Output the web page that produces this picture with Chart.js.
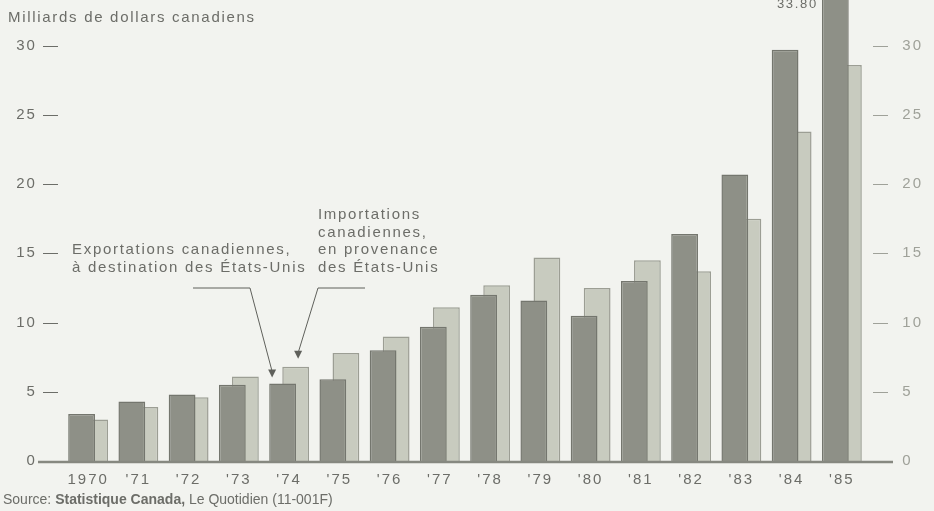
<!DOCTYPE html>
<html>
<head>
<meta charset="utf-8">
<script src="https://cdn.jsdelivr.net/npm/chart.js@4.4.1/dist/chart.umd.min.js"></script>
<style>
  html, body { margin: 0; padding: 0; background: #f2f3ef; }
  #wrap { width: 934px; height: 511px; position: relative; }
</style>
</head>
<body>
<div id="wrap"><canvas id="chart"></canvas></div>
<script>
// values (billions of Canadian dollars)
const years = ['1970', "'71", "'72", "'73", "'74", "'75", "'76", "'77", "'78", "'79", "'80", "'81", "'82", "'83", "'84", "'85"];
const exportsToUS = [3.4, 4.3, 4.8, 5.5, 5.6, 5.9, 8.0, 9.7, 12.0, 11.6, 10.5, 13.0, 16.4, 20.7, 29.7, 33.8];
const importsFromUS = [3.0, 3.9, 4.6, 6.1, 6.8, 7.8, 9.0, 11.1, 12.7, 14.7, 12.5, 14.5, 13.7, 17.5, 23.8, 28.6];
const yTickValues = [0, 5, 10, 15, 20, 25, 30];

const FONT = '"Liberation Sans", Arial, sans-serif';
const TEXT = '#6c6d68';

const notes = {
  id: 'notes',
  beforeDraw(chart) {
    // the printed type is loosely tracked
    chart.ctx.letterSpacing = '2px';
  },
  afterDatasetsDraw(chart) {
    const { ctx, chartArea, scales } = chart;
    const y0 = scales.y.getPixelForValue(0);
    ctx.save();
    ctx.strokeStyle = '#868880';
    ctx.lineWidth = 2.5;
    ctx.beginPath();
    ctx.moveTo(chartArea.left - 25, y0 + 1);
    ctx.lineTo(chartArea.right + 26, y0 + 1);
    ctx.stroke();
    ctx.restore();
  },
  afterDraw(chart) {
    const { ctx, scales } = chart;
    const x = scales.x, y = scales.y;
    ctx.save();
    ctx.letterSpacing = '1.7px';
    ctx.fillStyle = TEXT;
    ctx.textBaseline = 'middle';
    ctx.font = '15px ' + FONT;
    ctx.fillText('Milliards de dollars canadiens', 8, 18);

    ctx.fillText('Exportations canadiennes,', 72, 250);
    ctx.fillText('\u00e0 destination des \u00c9tats-Unis', 72, 268);
    ctx.fillText('Importations', 318, 215);
    ctx.fillText('canadiennes,', 318, 233);
    ctx.fillText('en provenance', 318, 250);
    ctx.fillText('des \u00c9tats-Unis', 318, 268);

    // leader lines to the 1974 bars
    const i74 = years.indexOf("'74");
    const bx = x.getPixelForValue(i74);
    const exTip = { x: bx - 17, y: y.getPixelForValue(exportsToUS[i74]) - 8 };
    const imTip = { x: bx + 9, y: y.getPixelForValue(importsFromUS[i74]) - 10 };
    ctx.strokeStyle = '#5f605b';
    ctx.lineWidth = 1;
    ctx.beginPath();
    ctx.moveTo(193, 288); ctx.lineTo(250, 288); ctx.lineTo(exTip.x, exTip.y - 4);
    ctx.moveTo(365, 288); ctx.lineTo(318, 288); ctx.lineTo(imTip.x, imTip.y - 4);
    ctx.stroke();
    ctx.fillStyle = '#5f605b';
    [exTip, imTip].forEach(t => {
      ctx.beginPath();
      ctx.moveTo(t.x - 4, t.y - 6);
      ctx.lineTo(t.x + 4, t.y - 6);
      ctx.lineTo(t.x, t.y + 2);
      ctx.closePath();
      ctx.fill();
    });

    // value label on the tallest bar
    const last = chart.getDatasetMeta(0).data[years.length - 1];
    ctx.fillStyle = TEXT;
    ctx.font = '13px ' + FONT;
    ctx.textAlign = 'right';
    ctx.fillText(exportsToUS[years.length - 1].toFixed(2), last.x - last.width / 2 - 4, 4);

    // source line
    ctx.letterSpacing = '0px';
    ctx.textAlign = 'left';
    ctx.font = '14px ' + FONT;
    let sx = 3;
    const sy = 500;
    ctx.fillText('Source: ', sx, sy);
    sx += ctx.measureText('Source: ').width;
    ctx.font = 'bold 14px ' + FONT;
    ctx.fillText('Statistique Canada,', sx, sy);
    sx += ctx.measureText('Statistique Canada, ').width;
    ctx.font = '14px ' + FONT;
    ctx.fillText('Le Quotidien (11-001F)', sx, sy);
    ctx.restore();
  }
};

const keepTicks = scale => {
  scale.ticks = yTickValues.map(v => ({ value: v }));
};

new Chart(document.getElementById('chart'), {
  type: 'bar',
  data: {
    labels: years,
    datasets: [
      {
        label: 'Exportations canadiennes, à destination des États-Unis',
        data: exportsToUS,
        backgroundColor: '#8e9087',
        borderColor: '#74766e',
        borderWidth: 1.5,
        categoryPercentage: 0.52,
        barPercentage: 2.05,
        clip: false
      },
      {
        label: 'Importations canadiennes, en provenance des États-Unis',
        data: importsFromUS,
        backgroundColor: '#c8cbbf',
        borderColor: '#9c9e94',
        borderWidth: 1.5,
        categoryPercentage: 0.52,
        barPercentage: 2.05,
        clip: false
      }
    ]
  },
  options: {
    responsive: true,
    maintainAspectRatio: false,
    animation: false,
    layout: { padding: { top: 0, bottom: 22, left: 0, right: 0 } },
    plugins: {
      legend: { display: false },
      tooltip: { enabled: false }
    },
    scales: {
      x: {
        grid: { display: false, drawTicks: false },
        border: { display: false },
        ticks: { color: TEXT, font: { family: FONT, size: 15 }, padding: 10, maxRotation: 0, autoSkip: false },
        afterFit: s => { s.height = 28; }
      },
      y: {
        position: 'left',
        min: 0,
        max: 33.3,
        grid: { display: false, drawTicks: false },
        border: { display: false },
        afterBuildTicks: keepTicks,
        ticks: { color: TEXT, font: { family: FONT, size: 15 }, padding: 3, callback: v => v + ' \u2014' },
        afterFit: s => { s.width = 63; s.paddingTop = 0; s.paddingBottom = 0; }
      },
      y2: {
        position: 'right',
        min: 0,
        max: 33.3,
        grid: { display: false, drawTicks: false },
        border: { display: false },
        afterBuildTicks: keepTicks,
        ticks: { color: '#9fa199', font: { family: FONT, size: 15 }, padding: 6, callback: v => '\u2014  ' + v },
        afterFit: s => { s.width = 67; s.paddingTop = 0; s.paddingBottom = 0; }
      }
    }
  },
  plugins: [notes]
});
</script>
</body>
</html>
